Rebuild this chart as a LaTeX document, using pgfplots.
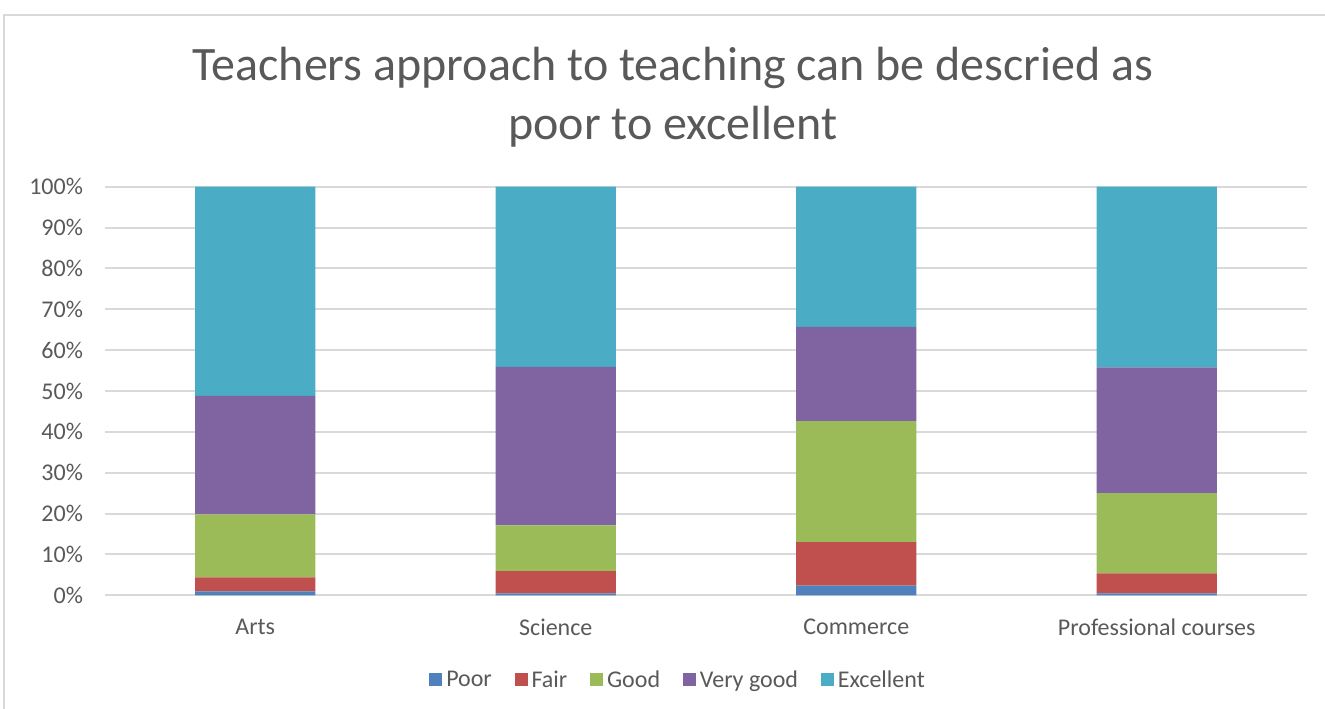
\documentclass[border=0pt]{standalone}
\usepackage{pgfplots}
\pgfplotsset{compat=1.18}
\usepackage{fontspec}
\setmainfont{Carlito}
\definecolor{cPoor}{HTML}{4F81BD}
\definecolor{cFair}{HTML}{C0504D}
\definecolor{cGood}{HTML}{9BBB59}
\definecolor{cVG}{HTML}{8064A2}
\definecolor{cExc}{HTML}{4BACC6}
\definecolor{cGrid}{HTML}{D9D9D9}
\definecolor{cText}{HTML}{595959}
\begin{document}
\begin{tikzpicture}
\useasboundingbox (0,0) rectangle (993.75pt,531pt);
\draw[cGrid, line width=1pt] (3pt,-5pt) -- (3pt,519.75pt) -- (1000pt,519.75pt);
\node[text=cText, font=\fontsize{36}{44}\selectfont, align=center] at (504.75pt,458pt)
  {Teachers approach to teaching can be descried as\\poor to excellent};
\begin{axis}[
  at={(78.75pt,84.5pt)}, anchor=south west,
  scale only axis, width=901.5pt, height=306.5pt,
  ybar stacked, bar width=0.4,
  xmin=-0.5, xmax=3.5, ymin=0, ymax=100,
  xtick={0,1,2,3},
  xticklabels={Arts,Science,Commerce,Professional courses},
  ytick={0,10,...,100},
  yticklabel={\pgfmathprintnumber{\tick}\%},
  /pgf/number format/assume math mode=true,
  ymajorgrids, grid style={cGrid, line width=1.5pt},
  axis line style={draw=none},
  axis x line*=bottom,
  x axis line style={cGrid, line width=1.5pt},
  major tick length=0pt,
  tick label style={text=cText, font=\fontsize{18}{20}\selectfont},
  yticklabel style={xshift=-13pt},
  xticklabel style={yshift=-14pt},
  legend columns=5,
  legend style={at={(0.477,-0.207)}, anchor=center, draw=none, fill=none,
    font=\fontsize{18}{20}\selectfont, text=cText,
    /tikz/every odd column/.append style={column sep=1pt},
    /tikz/every even column/.append style={column sep=15pt}},
  legend image code/.code={\fill[#1] (0pt,-4.9pt) rectangle (9.8pt,4.9pt);},
  every axis plot/.append style={draw=none},
]
\addplot[fill=cPoor] coordinates {(0,1.0) (1,0.5) (2,2.4) (3,0.5)};
\addplot[fill=cFair] coordinates {(0,3.4) (1,5.4) (2,10.6) (3,4.9)};
\addplot[fill=cGood] coordinates {(0,15.4) (1,11.2) (2,29.6) (3,19.6)};
\addplot[fill=cVG] coordinates {(0,29.0) (1,38.8) (2,23.1) (3,30.8)};
\addplot[fill=cExc] coordinates {(0,51.2) (1,44.1) (2,34.3) (3,44.2)};
\legend{Poor,Fair,Good,Very good,Excellent}
\end{axis}
\end{tikzpicture}
\end{document}
